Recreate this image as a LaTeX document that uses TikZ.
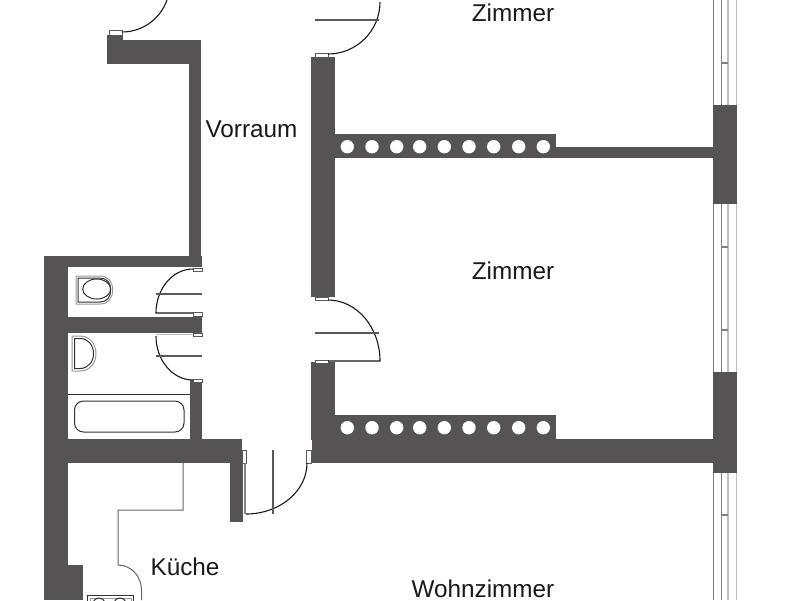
\documentclass[tikz,border=0pt]{standalone}
\usepackage{fontspec}
\setmainfont{Liberation Sans}
\definecolor{wallc}{RGB}{85,83,84}
\tikzset{
  x=1pt,y=-1pt,
  wall/.style={fill=wallc,draw=none},
  thin line/.style={draw=black!60,line width=1pt},
  door line/.style={draw=black!65,line width=1.1pt},
  door arc/.style={draw=black!90,line width=1.1pt},
  hinge/.style={fill=white,draw=black!65,line width=0.8pt},
  glassdark/.style={draw=black!50,line width=1.1pt},
  glasslight/.style={draw=black!25,line width=1.5pt},
  sanitary/.style={draw=black!80,line width=1pt,fill=none},
  sanitary2/.style={draw=black!40,line width=1pt,fill=none},
  hole/.style={circle,fill=white,draw=none,minimum size=13.4pt,inner sep=0pt},
  roomlabel/.style={font=\fontsize{24.3}{28}\selectfont,text=black!90,inner sep=0pt,anchor=base},
}
\begin{document}
\begin{tikzpicture}
\useasboundingbox (0,0) rectangle (800,600);
\clip (0,0) rectangle (800,600);
\fill[white] (0,0) rectangle (800,600);

% windows
\foreach \ya/\yb in {0/105,204/372,473/600}{
  \draw[glassdark] (713.5,\ya) -- (713.5,\yb);
  \draw[glassdark] (721.5,\ya) -- (721.5,\yb);
  \draw[glasslight] (728,\ya) -- (728,\yb);
  \draw[glasslight] (736.5,\ya) -- (736.5,\yb);
}
\foreach \y in {63,247,330,515}{\draw[glassdark] (721.5,\y) -- (728,\y);}

% walls
\fill[wall] (107,40) rectangle (201,63.5);
\fill[wall] (107,35) rectangle (123,40);
\fill[wall] (189,63) rectangle (201,256);
\fill[wall] (311,57) rectangle (335,297);
\fill[wall] (335,134) rectangle (556,158);
\fill[wall] (556,147) rectangle (714,158);
\fill[wall] (713,105) rectangle (737,204);
\fill[wall] (713,372) rectangle (737,473);
\fill[wall] (311,362) rectangle (335,440);
\fill[wall] (335,415) rectangle (556,440);
\fill[wall] (312,439) rectangle (714,463);
\fill[wall] (44,256) rectangle (68,600);
\fill[wall] (68,256) rectangle (202,267);
\fill[wall] (68,317) rectangle (202,333);
\fill[wall] (190,380) rectangle (202,440);
\fill[wall] (68,439) rectangle (242,463);
\fill[wall] (230,463) rectangle (243,522);
\fill[wall] (68,565) rectangle (83,600);

% perforated bars
\foreach \x [count=\i] in {347.3,372,396.7,419.7,444.3,469,493.7,518.7,543.3}{
  \node[hole] (ua\i) at (\x,146.7) {};
  \node[hole] (lo\i) at (\x,427.7) {};
}

% door hinges
\draw[hinge] (109,30.5) rectangle (122,35);
\draw[hinge] (315,53) rectangle (328,57);
\draw[hinge] (315,297) rectangle (328,300.5);
\draw[hinge] (315,360) rectangle (328,363);
\draw[hinge] (193,268) rectangle (202,271);
\draw[hinge] (193,312) rectangle (202,316);
\draw[hinge] (193,333) rectangle (202,336.5);
\draw[hinge] (193,379) rectangle (202,382.5);
\draw[hinge] (242,450.5) rectangle (246,463);
\draw[hinge] (306,450.5) rectangle (311,463);

% doors
\draw[door arc] (122,32) arc[start angle=90,end angle=0,radius=47.6];
\draw[door arc] (328,54) arc[start angle=90,end angle=0,radius=52];
\draw[door line] (315,20) -- (379,20);
\draw[door arc] (328,300) arc[start angle=-90,end angle=0,x radius=52,y radius=61] -- (328,361);
\draw[door line] (315,333) -- (379,333);
\draw[door arc] (193,269) arc[start angle=-90,end angle=-180,x radius=37,y radius=44] -- (193,313);
\draw[door line] (156,294) -- (202,294);
\draw[door arc] (156,336) arc[start angle=180,end angle=90,x radius=37,y radius=44];
\draw[glasslight] (156,334.5) -- (193,334.5);
\draw[door line] (156,356) -- (202,356);
\draw[door arc] (246,514) arc[start angle=90,end angle=0,x radius=61,y radius=51];
\draw[door line] (273,450) -- (273,514);
\draw[glassdark] (245,463) -- (245,514);

% kitchen counter
\draw[thin line] (183,463) -- (183,510) -- (118,510) -- (118,565)
  arc[start angle=-90,end angle=0,x radius=23.5,y radius=25] -- (141.5,600);

% stove
\draw[sanitary] (87.5,595.5) rectangle (133.5,610);
\draw[sanitary2] (90,598) rectangle (131,610);
\draw[sanitary] (99,604) circle[radius=6];
\draw[sanitary] (120,604) circle[radius=6];

% WC
\draw[sanitary2] (76,276) -- (100,276) .. controls (108,276) and (112.7,282) .. (112.7,290)
  .. controls (112.7,298) and (108,304) .. (100,304) -- (76,304) -- cycle;
\draw[sanitary] (78,278) -- (100,278) .. controls (107,278) and (110.7,283) .. (110.7,290)
  .. controls (110.7,297) and (107,302) .. (100,302) -- (78,302) -- cycle;
\draw[sanitary] (96.7,289) ellipse[x radius=14,y radius=10];

% sink
\draw[sanitary2] (72,336) -- (80,336) .. controls (90,336) and (96,344) .. (96,353.5)
  .. controls (96,363) and (90,371) .. (80,371) -- (72,371) -- cycle;
\draw[sanitary] (74.5,338.5) -- (80,338.5) .. controls (88,338.5) and (93.5,345) .. (93.5,353.5)
  .. controls (93.5,362) and (88,368.5) .. (80,368.5) -- (74.5,368.5) -- cycle;

% tub
\draw[sanitary] (68,394) -- (190,394);
\draw[sanitary,rounded corners=9pt] (74.5,401) rectangle (184,432);

% labels
\node[roomlabel] (zimmerA) at (513,21.5) {Zimmer};
\node[roomlabel] (zimmerB) at (513,279.5) {Zimmer};
\node[roomlabel] (vorraum) at (251.5,137) {Vorraum};
\node[roomlabel] (kueche) at (185,575.5) {Küche};
\node[roomlabel] (wohn) at (483,597.3) {Wohnzimmer};
\end{tikzpicture}
\end{document}
